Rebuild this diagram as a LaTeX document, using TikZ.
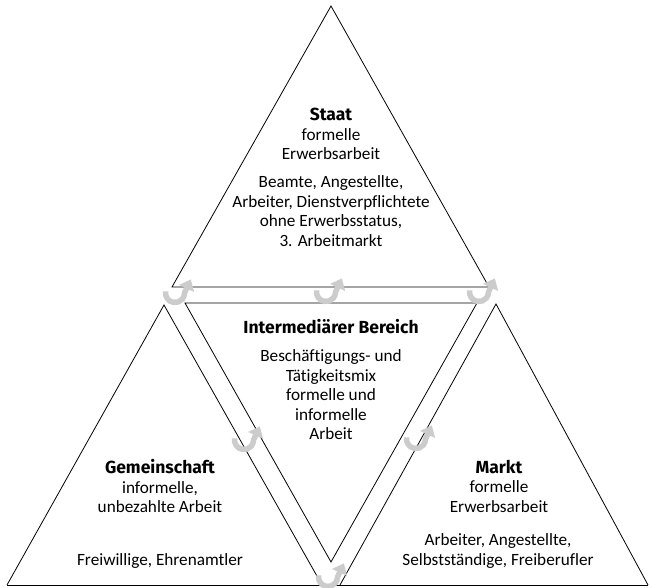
\documentclass[tikz,border=0pt]{standalone}
\usepackage{fontspec}
\setmainfont{Carlito}[Ligatures=NoCommon]
\newfontfamily\headfont{Fira Sans}
\usepackage{tikz}
\usepackage{xcolor}
\usetikzlibrary{arrows.meta}
\definecolor{turngray}{RGB}{204,204,204}
\newcommand{\hd}[1]{{\headfont\bfseries\fontsize{17.5}{19.5}\selectfont #1}}

\begin{document}
\begin{tikzpicture}[x=1pt,y=1pt,
    edge/.style={black,line width=0.8pt,line join=miter},
    lbl/.style={align=center,inner sep=0pt,font=\fontsize{17.2}{19.5}\selectfont},
    turn/.style={turngray,line width=5.5pt,-{Triangle[width=16pt,length=10pt]}}]
    \useasboundingbox (0,0) rectangle (651,587);
    % common base line
    \draw[edge] (7,2)--(648,2);
    % Staat (top)
    \draw[edge] (172,300)--(331,581)--(489,300)--cycle;
    % intermediate area (upside down)
    \draw[edge] (185,284)--(477,284)--(331,25)--cycle;
    % Gemeinschaft (left) and Markt (right)
    \draw[edge] (7,2)--(164,282)--(322,2);
    \draw[edge] (340,2)--(496,283)--(648,2);
    % texts
    \node[lbl] (staat) at (331,453) {\hd{Staat}\\formelle\\Erwerbsarbeit};
    \node[lbl] (staatinfo) at (331,376) {Beamte, Angestellte,\\Arbeiter, Dienstverpflichtete\\ohne Erwerbsstatus,\\3. Arbeitmarkt};
    \node[lbl] (inter) at (331,260) {\hd{Intermediärer Bereich}};
    \node[lbl] (interinfo) at (331,192) {Beschäftigungs- und\\Tätigkeitsmix\\formelle und\\informelle\\Arbeit};
    \node[lbl] (gemein) at (160,101) {\hd{Gemeinschaft}\\informelle,\\unbezahlte Arbeit};
    \node[lbl] (gemeininfo) at (160,26) {Freiwillige, Ehrenamtler};
    \node[lbl] (markt) at (499,101) {\hd{Markt}\\formelle\\Erwerbsarbeit};
    \node[lbl] (marktinfo) at (498,36) {Arbeiter, Angestellte,\\Selbstständige, Freiberufler};
    % turning arrows on the borders
    \foreach \cx/\cy in {175/294,326/295,479/295,244/147,416/148,328/10}
      \draw[turn] (\cx,\cy) ++(170:9.5pt) arc[start angle=170,end angle=360,radius=9.5pt] -- ++(65:15pt);
\end{tikzpicture}
\end{document}
